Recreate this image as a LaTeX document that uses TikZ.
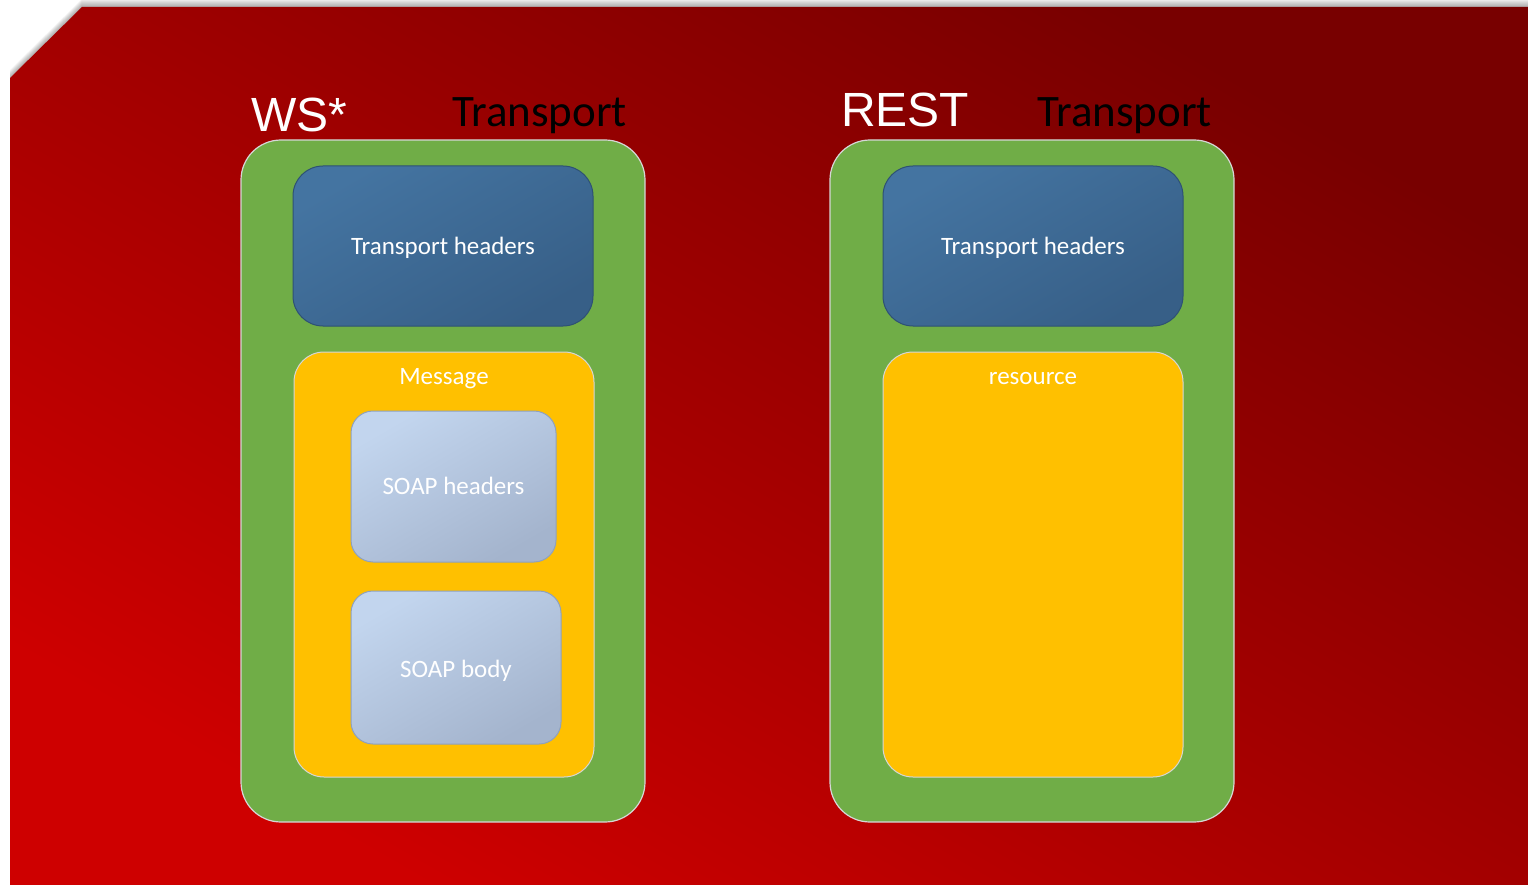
\documentclass[tikz,border=0pt]{standalone}
\usepackage{fontspec}
\setmainfont{Carlito}
\newfontfamily\arialfont{Liberation Sans}
\definecolor{bgdark}{HTML}{780000}
\definecolor{bglight}{HTML}{CE0000}
\definecolor{boxgreen}{HTML}{70AD47}
\definecolor{boxorange}{HTML}{FFC000}
\definecolor{hdrtop}{HTML}{4474A1}
\definecolor{hdrbot}{HTML}{375F87}
\definecolor{hdrline}{HTML}{2E5174}
\definecolor{soaptop}{HTML}{C2D5EE}
\definecolor{soapbot}{HTML}{A4B4CD}
\definecolor{soapline}{HTML}{8FA1BC}
\definecolor{rimgray}{HTML}{D6D6D6}

\begin{document}
\begin{tikzpicture}[x=1pt,y=-1pt,
  every node/.style={inner sep=0pt},
  transport/.style={draw=rimgray, line width=1.2pt, fill=boxgreen, rounded corners=40pt,
    minimum width=404pt, minimum height=682pt},
  hdrbox/.style={draw=hdrline, line width=1pt, top color=hdrtop, bottom color=hdrbot, shading angle=30,
    rounded corners=30pt, minimum width=300pt, minimum height=160pt, text=white,
    font=\fontsize{25}{30}\selectfont, text height=16.6pt, text depth=0pt},
  msgbox/.style={draw=rimgray, line width=1pt, fill=boxorange, rounded corners=30pt,
    minimum width=300pt, minimum height=425pt},
  soapbox/.style={draw=soapline, line width=1pt, top color=soaptop, bottom color=soapbot, shading angle=30,
    rounded corners=22pt, minimum width=205pt, minimum height=151pt, text=white,
    font=\fontsize{25}{30}\selectfont, text height=17.6pt, text depth=2pt},
  boxlabel/.style={anchor=base, text=white, font=\fontsize{25}{30}\selectfont},
  title/.style={anchor=base west, text=white, font=\arialfont\fontsize{48}{54}\selectfont},
  trtitle/.style={anchor=base west, text=black, font=\fontsize{45}{52}\selectfont}]
  \useasboundingbox (0,0) rectangle (1528,885);
  % slide background with its shadow
  \foreach \d in {1,...,8}
    \fill[black, opacity=0.045, shift={(0,-\d)}] (10,78) -- (82,7) -- (1528,7) -- (1528,885) -- (10,885) -- cycle;
  \shade[top color=bgdark, bottom color=bglight, shading angle=-30]
    (10,78) -- (82,7) -- (1528,7) -- (1528,885) -- (10,885) -- cycle;
  % WS* side
  \node[title] (ws) at (251,132) {WS*};
  \node[trtitle] (wstr) at (452,127) {Transport};
  \node[transport] (wsbox) at (443,481) {};
  \node[hdrbox] (wshdr) at (443,246) {Transport headers};
  \node[msgbox] (wsmsg) at (444,564.5) {};
  \node[boxlabel] (wsmsglbl) at (444,384.3) {Message};
  \node[soapbox] (soaphdr) at (453.5,486.5) {SOAP headers};
  \node[soapbox, minimum width=210pt, minimum height=153pt, text height=21.2pt, text depth=0.8pt]
    (soapbody) at (456,667.5) {SOAP body};
  % REST side
  \node[title] (rest) at (841,127) {REST};
  \node[trtitle] (resttr) at (1037,127) {Transport};
  \node[transport] (restbox) at (1032,481) {};
  \node[hdrbox] (resthdr) at (1033,246) {Transport headers};
  \node[msgbox] (restres) at (1033,564.5) {};
  \node[boxlabel] (restreslbl) at (1033,384.3) {resource};
\end{tikzpicture}
\end{document}
